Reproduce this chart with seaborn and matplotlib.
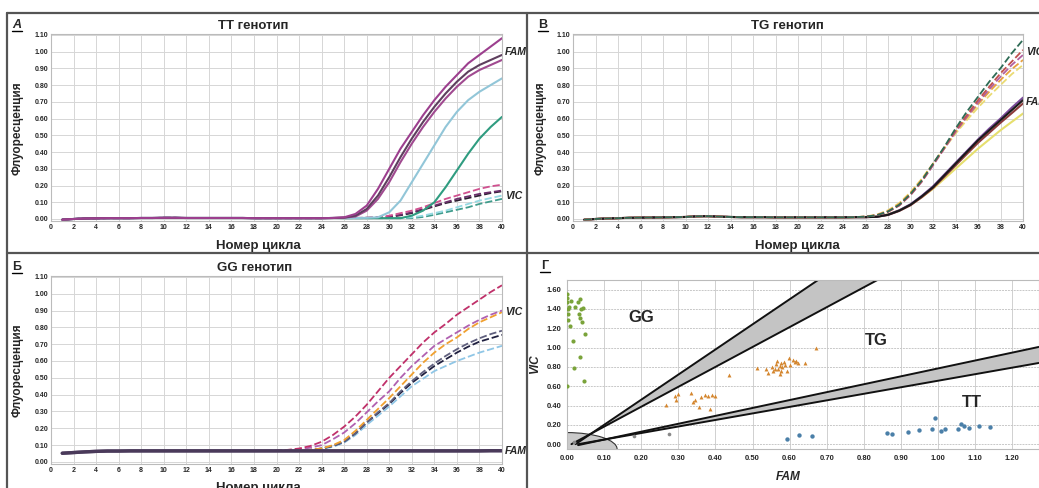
import matplotlib
matplotlib.use("Agg")
import matplotlib.pyplot as plt
import seaborn as sns
from matplotlib.lines import Line2D
from matplotlib.patches import Ellipse
from matplotlib.transforms import Bbox, TransformedBbox

sns.set_style("white")
plt.rcParams["font.family"] = ["Liberation Sans", "DejaVu Sans"]

# %% data
cycles = list(range(1, 41))

# TT genotype, cycles 1-25 baseline then 26-40
tt_base = [-0.004, 0.000, 0.003, 0.004, 0.005, 0.005, 0.005, 0.006, 0.006, 0.007,
           0.007, 0.006, 0.006, 0.006, 0.006, 0.006, 0.006, 0.005, 0.005, 0.005,
           0.005, 0.005, 0.005, 0.005, 0.006]
tt_fam1 = [0.010, 0.030, 0.080, 0.180, 0.300, 0.420, 0.520, 0.620, 0.710, 0.790, 0.860, 0.930, 0.980, 1.030, 1.080]
tt_fam2 = [0.008, 0.020, 0.060, 0.140, 0.250, 0.370, 0.480, 0.580, 0.670, 0.750, 0.820, 0.880, 0.920, 0.950, 0.980]
tt_fam3 = [0.008, 0.015, 0.050, 0.120, 0.220, 0.340, 0.450, 0.550, 0.640, 0.720, 0.790, 0.850, 0.890, 0.920, 0.950]
tt_fam4 = [0.006, 0.006, 0.007, 0.010, 0.040, 0.110, 0.220, 0.330, 0.440, 0.550, 0.640, 0.710, 0.760, 0.800, 0.840]
tt_fam5 = [0.005, 0.005, 0.005, 0.005, 0.005, 0.005, 0.020, 0.050, 0.100, 0.190, 0.290, 0.390, 0.480, 0.550, 0.610]
tt_vic1 = [0.006, 0.007, 0.008, 0.010, 0.020, 0.035, 0.050, 0.070, 0.095, 0.120, 0.140, 0.160, 0.180, 0.195, 0.205]
tt_vic2 = [0.006, 0.006, 0.007, 0.009, 0.015, 0.025, 0.040, 0.060, 0.080, 0.100, 0.120, 0.135, 0.150, 0.160, 0.170]
tt_vic3 = [0.006, 0.006, 0.007, 0.008, 0.012, 0.022, 0.035, 0.055, 0.075, 0.095, 0.110, 0.125, 0.140, 0.155, 0.165]
tt_vic4 = [0.005, 0.005, 0.005, 0.005, 0.005, 0.005, 0.010, 0.020, 0.035, 0.050, 0.070, 0.090, 0.110, 0.125, 0.140]
tt_vic5 = [0.005, 0.005, 0.005, 0.005, 0.005, 0.005, 0.005, 0.012, 0.025, 0.040, 0.055, 0.070, 0.090, 0.105, 0.120]

# TG genotype, cycles 1-25 baseline then 26-40
tg_base = [-0.004, 0.000, 0.003, 0.005, 0.007, 0.008, 0.009, 0.010, 0.011, 0.012,
           0.016, 0.017, 0.014, 0.012, 0.011, 0.011, 0.011, 0.010, 0.010, 0.010,
           0.010, 0.010, 0.010, 0.010, 0.011]
tg_vic1 = [0.014, 0.022, 0.045, 0.085, 0.150, 0.230, 0.330, 0.430, 0.540, 0.640, 0.730, 0.820, 0.900, 0.990, 1.070]
tg_vic2 = [0.014, 0.022, 0.043, 0.082, 0.145, 0.225, 0.325, 0.425, 0.530, 0.620, 0.710, 0.790, 0.870, 0.940, 1.010]
tg_vic3 = [0.014, 0.022, 0.043, 0.080, 0.142, 0.222, 0.320, 0.420, 0.520, 0.610, 0.695, 0.775, 0.850, 0.920, 0.980]
tg_vic4 = [0.014, 0.024, 0.048, 0.090, 0.155, 0.235, 0.330, 0.425, 0.520, 0.605, 0.685, 0.760, 0.830, 0.895, 0.950]
tg_vic5 = [0.015, 0.026, 0.052, 0.095, 0.160, 0.240, 0.330, 0.420, 0.510, 0.590, 0.665, 0.735, 0.800, 0.865, 0.920]
tg_fam1 = [0.011, 0.014, 0.026, 0.052, 0.088, 0.138, 0.195, 0.265, 0.335, 0.405, 0.475, 0.540, 0.600, 0.665, 0.725]
tg_fam2 = [0.011, 0.013, 0.025, 0.050, 0.085, 0.135, 0.190, 0.260, 0.330, 0.400, 0.470, 0.530, 0.590, 0.650, 0.710]
tg_fam3 = [0.011, 0.013, 0.024, 0.048, 0.082, 0.130, 0.185, 0.252, 0.320, 0.388, 0.455, 0.515, 0.575, 0.632, 0.690]
tg_fam4 = [0.012, 0.015, 0.028, 0.052, 0.085, 0.130, 0.180, 0.240, 0.300, 0.360, 0.420, 0.475, 0.530, 0.580, 0.630]

# GG genotype, cycles 1-19 baseline then 20-40
gg_base = [0.052, 0.056, 0.060, 0.063, 0.065, 0.065, 0.066, 0.066, 0.066, 0.066,
           0.066, 0.066, 0.066, 0.066, 0.066, 0.066, 0.066, 0.066, 0.066]
gg_vic1 = [0.068, 0.072, 0.080, 0.095, 0.120, 0.160, 0.210, 0.270, 0.340, 0.420, 0.500,
           0.570, 0.640, 0.710, 0.770, 0.820, 0.875, 0.920, 0.965, 1.010, 1.050]
gg_vic2 = [0.067, 0.070, 0.075, 0.085, 0.100, 0.135, 0.175, 0.230, 0.295, 0.360, 0.420,
           0.500, 0.570, 0.630, 0.690, 0.730, 0.770, 0.810, 0.845, 0.875, 0.900]
gg_vic3 = [0.066, 0.067, 0.069, 0.073, 0.080, 0.100, 0.130, 0.185, 0.250, 0.315, 0.380,
           0.450, 0.520, 0.590, 0.650, 0.700, 0.740, 0.790, 0.830, 0.860, 0.890]
gg_vic4 = [0.066, 0.067, 0.068, 0.072, 0.080, 0.095, 0.120, 0.170, 0.235, 0.295, 0.350,
           0.420, 0.480, 0.535, 0.585, 0.630, 0.670, 0.705, 0.735, 0.760, 0.780]
gg_vic5 = [0.066, 0.066, 0.068, 0.072, 0.080, 0.095, 0.120, 0.170, 0.235, 0.290, 0.345,
           0.410, 0.470, 0.520, 0.570, 0.610, 0.650, 0.685, 0.715, 0.735, 0.755]
gg_vic6 = [0.066, 0.066, 0.067, 0.070, 0.077, 0.090, 0.115, 0.160, 0.220, 0.275, 0.330,
           0.390, 0.450, 0.495, 0.540, 0.570, 0.600, 0.625, 0.650, 0.670, 0.690]
gg_fam = [0.066, 0.066, 0.066, 0.066, 0.066, 0.066, 0.066, 0.066, 0.066, 0.066, 0.066,
          0.066, 0.066, 0.066, 0.066, 0.066, 0.066, 0.066, 0.066, 0.067, 0.067]

# allelic discrimination plot
gg_x = [0.000, 0.000, 0.000, 0.002, 0.002, 0.004, 0.006, 0.008, 0.012, 0.022, 0.030,
        0.034, 0.038, 0.032, 0.036, 0.040, 0.044, 0.048, 0.016, 0.034, 0.020, 0.046, 0.000]
gg_y = [1.55, 1.51, 1.47, 1.40, 1.35, 1.29, 1.42, 1.22, 1.48, 1.42, 1.47,
        1.50, 1.40, 1.35, 1.31, 1.26, 1.41, 1.14, 1.07, 0.90, 0.79, 0.65, 0.60]
tg_x = [0.267, 0.290, 0.295, 0.300, 0.335, 0.340, 0.345, 0.360, 0.372, 0.380, 0.390,
        0.400, 0.356, 0.385, 0.437,
        0.512, 0.536, 0.542, 0.553, 0.556, 0.563, 0.566, 0.570, 0.573, 0.576, 0.578,
        0.580, 0.585, 0.588, 0.593, 0.598, 0.602, 0.610, 0.615, 0.617, 0.622, 0.641,
        0.671, 0.575, 0.560]
tg_y = [0.41, 0.50, 0.46, 0.52, 0.53, 0.44, 0.46, 0.49, 0.51, 0.50, 0.51,
        0.50, 0.39, 0.36, 0.72,
        0.79, 0.78, 0.74, 0.80, 0.76, 0.83, 0.86, 0.78, 0.81, 0.84, 0.76,
        0.80, 0.85, 0.82, 0.76, 0.89, 0.82, 0.87, 0.85, 0.86, 0.84, 0.84,
        1.00, 0.73, 0.78]
tt_x = [0.593, 0.625, 0.660, 0.862, 0.877, 0.920, 0.950, 0.984, 0.992, 1.007,
        1.020, 1.053, 1.062, 1.070, 1.083, 1.110, 1.140]
tt_y = [0.05, 0.09, 0.08, 0.12, 0.11, 0.13, 0.15, 0.16, 0.27, 0.14,
        0.16, 0.16, 0.21, 0.19, 0.17, 0.19, 0.18]
ntc_x = [0.275, 0.180, 0.020]
ntc_y = [0.11, 0.08, 0.02]

# cluster boundaries
gg_tg_left_x, gg_tg_left_y = [0.023, 0.696], [0.0, 1.75]
gg_tg_right_x, gg_tg_right_y = [0.012, 0.861], [0.0, 1.75]
tg_tt_upper_x, tg_tt_upper_y = [0.03, 1.30], [-0.01, 1.03]
tg_tt_lower_x, tg_tt_lower_y = [0.03, 1.30], [0.0, 0.86]
ntc_center, ntc_w, ntc_h = (0.0, -0.05), 0.27, 0.34


# %% layout
W, H = 1039, 488
fig = plt.figure(figsize=(W / 100, H / 100), dpi=100)


def rect(l, t, r, b):
    return [l / W, 1 - b / H, (r - l) / W, (b - t) / H]


def fig_text(px, py, s, **kw):
    return fig.text(px / W, 1 - py / H, s, **kw)


def curve_axes(ax):
    ax.set_xlim(0, 40)
    ax.set_ylim(-0.012, 1.105)
    ax.set_xticks(range(0, 41, 2))
    ax.set_xticks(cycles, minor=True)
    yt = [i / 10 for i in range(12)]
    ax.set_yticks(yt)
    ax.set_yticklabels([f"{v:.2f}" for v in yt])
    ax.grid(True, which="major", color="#d6d6d6", lw=0.7)
    ax.tick_params(labelsize=5, pad=2, length=0)
    ax.tick_params(which="minor", axis="x", length=2, color="#999999")
    for lab in ax.get_xticklabels() + ax.get_yticklabels():
        lab.set_fontweight("bold")
    for sp in ax.spines.values():
        sp.set_color("#bbbbbb")
        sp.set_linewidth(0.8)
    ax.set_xlabel("")
    ax.set_ylabel("")


def draw(ax, base, tail, color, dashed, lw=1.3):
    ls = (0, (4, 1.6)) if dashed else "-"
    sns.lineplot(x=cycles, y=base + tail, ax=ax, color=color, lw=lw, linestyle=ls)


left_clip = TransformedBbox(Bbox([[0, 0], [526 / W, 1]]), fig.transFigure)


def side_label(ax, y, s, clip=True):
    t = ax.text(40.25, y, s, fontsize=7.5, fontweight="bold", fontstyle="italic",
                ha="left", va="center", clip_on=clip)
    if clip:
        t.set_clip_box(left_clip)


# panel A: TT
axA = fig.add_axes(rect(51, 34, 502, 221))
for tail, c in [(tt_vic5, "#3f9c8c"), (tt_vic4, "#95d9e2"), (tt_vic3, "#2a2030"),
                (tt_vic2, "#6a2f6a"), (tt_vic1, "#d0508f")]:
    draw(axA, tt_base, tail, c, True)
for tail, c in [(tt_fam5, "#2f9c80"), (tt_fam4, "#92c6d8"), (tt_fam3, "#a04a90"),
                (tt_fam2, "#5e3f5e"), (tt_fam1, "#9c3f8e")]:
    draw(axA, tt_base, tail, c, False, lw=1.5)
curve_axes(axA)
side_label(axA, 1.00, "FAM")
side_label(axA, 0.14, "VIC")

# panel B: TG
axB = fig.add_axes(rect(573, 34, 1023, 221))
for tail, c in [(tg_fam4, "#e6df6e"), (tg_fam3, "#8b3a3a"), (tg_fam1, "#7a4a9a"),
                (tg_fam2, "#1a1a1a")]:
    draw(axB, tg_base, tail, c, False, lw=1.5)
for tail, c in [(tg_vic5, "#eadb73"), (tg_vic4, "#e8a040"), (tg_vic3, "#b060a0"),
                (tg_vic2, "#c0504d"), (tg_vic1, "#2e6b55")]:
    draw(axB, tg_base, tail, c, True)
curve_axes(axB)
side_label(axB, 1.00, "VIC", clip=False)
side_label(axB, 0.70, "FAM", clip=False)

# panel Б: GG
axC = fig.add_axes(rect(51, 276, 502, 464))
for tail, c in [(gg_vic6, "#8fc6e6"), (gg_vic5, "#202040"), (gg_vic4, "#60607e"),
                (gg_vic3, "#f0a030"), (gg_vic2, "#b060b0"), (gg_vic1, "#c0306a")]:
    draw(axC, gg_base, tail, c, True)
for c in ["#6a5a7a", "#4a3a5a"]:
    draw(axC, gg_base, gg_fam, c, False, lw=2.4)
curve_axes(axC)
side_label(axC, 0.89, "VIC")
side_label(axC, 0.065, "FAM")

# panel Г: allelic discrimination
axD = fig.add_axes(rect(567, 280, 1039, 449))
axD.set_xlim(0, 472 / 371)
axD.set_ylim(-0.05, 1.70)

cx = (gg_tg_left_x[0] * 2.6 - gg_tg_right_x[0] * 2.061) / (2.6 - 2.061)
cy = 2.6 * (cx - gg_tg_left_x[0])
axD.fill([cx, gg_tg_left_x[1], gg_tg_right_x[1]], [cy, gg_tg_left_y[1], gg_tg_right_y[1]],
         color="#c4c4c4", zorder=1, lw=0)
s_up = (tg_tt_upper_y[1] - tg_tt_upper_y[0]) / (tg_tt_upper_x[1] - tg_tt_upper_x[0])
s_lo = (tg_tt_lower_y[1] - tg_tt_lower_y[0]) / (tg_tt_lower_x[1] - tg_tt_lower_x[0])
dx = (tg_tt_lower_y[0] - tg_tt_upper_y[0]) / (s_up - s_lo)
axD.fill([tg_tt_upper_x[0] + dx, tg_tt_upper_x[1], tg_tt_lower_x[1]],
         [tg_tt_lower_y[0] + s_lo * dx, tg_tt_upper_y[1], tg_tt_lower_y[1]],
         color="#c4c4c4", zorder=1, lw=0)
axD.add_patch(Ellipse(ntc_center, ntc_w, ntc_h, facecolor="#cacaca",
                      edgecolor="#333333", lw=0.8, zorder=1))
for bx, by in [(gg_tg_left_x, gg_tg_left_y), (gg_tg_right_x, gg_tg_right_y),
               (tg_tt_upper_x, tg_tt_upper_y), (tg_tt_lower_x, tg_tt_lower_y)]:
    sns.lineplot(x=bx, y=by, ax=axD, color="#111111", lw=1.4, zorder=2)

sns.scatterplot(x=gg_x, y=gg_y, ax=axD, color="#7aa33a", s=9, linewidth=0, zorder=3)
sns.scatterplot(x=tg_x, y=tg_y, ax=axD, color="#d4862e", s=8, marker="^", linewidth=0, zorder=3)
sns.scatterplot(x=tt_x, y=tt_y, ax=axD, color="#4a7fa8", s=10, linewidth=0, zorder=3)
sns.scatterplot(x=ntc_x, y=ntc_y, ax=axD, color="#888888", s=7, linewidth=0, zorder=3)

xt = [i / 10 for i in range(13)]
axD.set_xticks(xt)
axD.set_xticklabels([f"{v:.2f}" for v in xt])
yt = [i / 5 for i in range(9)]
axD.set_yticks(yt)
axD.set_yticklabels([f"{v:.2f}" for v in yt])
axD.grid(True, axis="x", color="#d0d0d0", lw=0.7)
axD.grid(True, axis="y", color="#c8c8c8", lw=0.7, linestyle=(0, (2, 1)))
axD.tick_params(labelsize=5.5, pad=4, length=0)
for lab in axD.get_xticklabels() + axD.get_yticklabels():
    lab.set_fontweight("bold")
for sp in axD.spines.values():
    sp.set_color("#bbbbbb")
    sp.set_linewidth(0.8)
axD.set_xlabel("")
axD.set_ylabel("")
for x, y, s in [(0.20, 1.31, "GG"), (0.835, 1.07, "TG"), (1.09, 0.43, "TT")]:
    axD.text(x, y, s, fontsize=12, fontweight="bold", ha="center", va="center", zorder=4)

# titles and axis labels
for px, py, s in [(253, 26, "TT генотип"), (787, 26, "TG генотип"), (255, 268, "GG генотип")]:
    fig_text(px, py, s, fontsize=9.5, fontweight="bold", ha="center", va="center")
for px, py in [(258, 246), (797, 246), (258, 488)]:
    fig_text(px, py, "Номер цикла", fontsize=9.5, fontweight="bold", ha="center", va="center")
for px, py in [(18, 128), (541, 128), (18, 370)]:
    fig_text(px, py, "Флуоресценция", fontsize=8.5, fontweight="bold", rotation=90,
             ha="center", va="center")
fig_text(535, 364, "VIC", fontsize=8.5, fontweight="bold", fontstyle="italic",
         rotation=90, ha="center", va="center")
fig_text(788, 477, "FAM", fontsize=8.5, fontweight="bold", fontstyle="italic",
         ha="center", va="center")

# panel letters with underline
for px, py, s, it in [(17, 25, "А", "italic"), (543, 25, "В", "normal"),
                      (17, 267, "Б", "normal"), (545, 266, "Г", "normal")]:
    fig_text(px, py, s, fontsize=9, fontweight="bold", fontstyle=it, ha="center", va="center")
    fig.add_artist(Line2D([(px - 5) / W, (px + 5) / W], [1 - (py + 6) / H] * 2,
                          color="black", lw=1))

# panel frames
frame = dict(color="#555555", lw=1.6)
fig.add_artist(Line2D([7 / W, 7 / W], [1 - 13 / H, 0], **frame))
fig.add_artist(Line2D([7 / W, 1], [1 - 13 / H] * 2, **frame))
fig.add_artist(Line2D([527 / W, 527 / W], [1 - 13 / H, 0], **frame))
fig.add_artist(Line2D([7 / W, 1], [1 - 253 / H] * 2, **frame))

fig.savefig("out.png", dpi=100)
